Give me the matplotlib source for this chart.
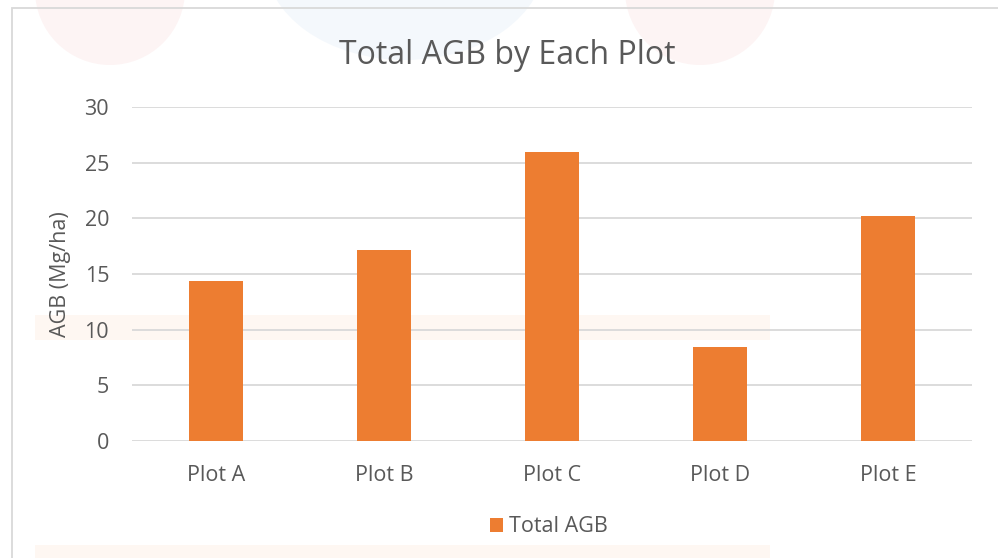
import matplotlib
matplotlib.use("Agg")
import matplotlib.pyplot as plt
from matplotlib.patches import Rectangle, Ellipse

categories = ["Plot A", "Plot B", "Plot C", "Plot D", "Plot E"]
agb_values = [14.4, 17.2, 26.0, 8.4, 20.2]
series_name = "Total AGB"
y_ticks = [0, 5, 10, 15, 20, 25, 30]

W, H = 998, 558
fig = plt.figure(figsize=(W / 100, H / 100), dpi=100)
fig.patch.set_facecolor("white")

FONT = ["Open Sans", "DejaVu Sans"]
TXT = "#595959"
FS = 15.5

def fx(px):
    return px / W

def fy(py):
    return 1 - py / H

# faint background marks of the scanned page
for cx, cy, w, h, col in [(110, -10, 150, 150, "#F4B6B6"),
                          (700, -10, 150, 150, "#F4B6B6"),
                          (405, -40, 280, 200, "#B6D3EE")]:
    fig.patches.append(Ellipse((fx(cx), fy(cy)), fx(w), fy(0) - fy(h),
                               transform=fig.transFigure, color=col, alpha=0.15,
                               linewidth=0, zorder=0))
fig.patches.append(Rectangle((fx(35), fy(340)), fx(735), fy(315) - fy(340),
                             transform=fig.transFigure, color="#FDE3CC", alpha=0.25,
                             linewidth=0, zorder=0))
fig.patches.append(Rectangle((fx(35), fy(560)), fx(735), fy(545) - fy(560),
                             transform=fig.transFigure, color="#FDE3CC", alpha=0.25,
                             linewidth=0, zorder=0))

# chart frame
fig.patches.append(Rectangle((fx(12), fy(1000)), fx(1100), fy(8) - fy(1000),
                             transform=fig.transFigure, fill=False,
                             edgecolor="#D9D9D9", linewidth=1.3, zorder=1))

ax = fig.add_axes([fx(132), fy(441), fx(972) - fx(132), fy(107) - fy(441)])
ax.set_zorder(5)
ax.set_facecolor("none")
x = range(len(categories))
ax.bar(x, agb_values, width=0.32, color="#ED7D31", zorder=3, label=series_name)
ax.set_xlim(-0.5, len(categories) - 0.5)
ax.set_ylim(0, 30)
ax.set_yticks(y_ticks)
ax.set_yticklabels([str(t) for t in y_ticks], fontfamily=FONT, fontsize=FS, color=TXT)
ax.set_xticks(list(x))
ax.set_xticklabels(categories, fontfamily=FONT, fontsize=FS, color=TXT)
ax.tick_params(length=0)
ax.tick_params(axis="y", pad=16.5)
ax.tick_params(axis="x", pad=17)
ax.grid(axis="y", color="#D9D9D9", linewidth=1.3, zorder=0)
for s in ax.spines.values():
    s.set_visible(False)
ax.set_ylabel("AGB (Mg/ha)", fontfamily=FONT, fontsize=FS, color=TXT, labelpad=10)

fig.text(fx(507.5), fy(64), "Total AGB by Each Plot", ha="center", va="baseline",
         fontfamily=FONT, fontsize=23, color=TXT)

leg = fig.legend(loc="center", bbox_to_anchor=(fx(549), fy(527)), frameon=False,
                 prop={"family": FONT, "size": FS}, handlelength=0.6,
                 handleheight=0.6, handletextpad=0.25)
for t in leg.get_texts():
    t.set_color(TXT)

fig.savefig("out.png", dpi=100)
